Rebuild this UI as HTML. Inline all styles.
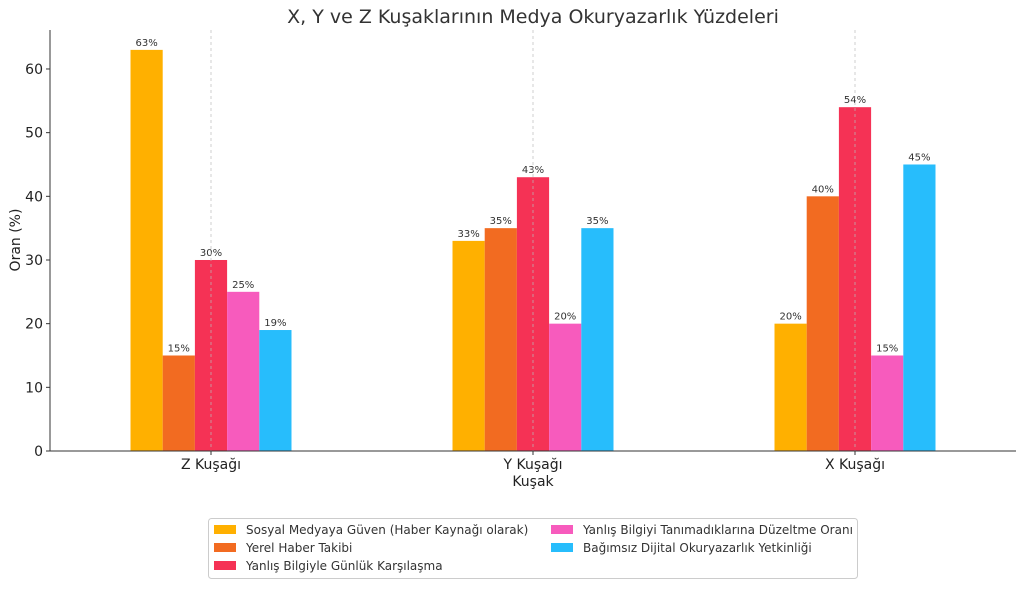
<!DOCTYPE html>
<html><head><meta charset="utf-8"><style>
html,body{margin:0;padding:0;background:#fff;}
svg text{font-family:"DejaVu Sans","Liberation Sans",sans-serif;}
</style></head><body>
<svg id="chart" width="1024" height="587" viewBox="0 0 1024 587" xmlns="http://www.w3.org/2000/svg"></svg>
<script>
const categories = ["Z Kuşağı", "Y Kuşağı", "X Kuşağı"];
const seriesNames = ["Sosyal Medyaya Güven (Haber Kaynağı olarak)", "Yerel Haber Takibi", "Yanlış Bilgiyle Günlük Karşılaşma", "Yanlış Bilgiyi Tanımadıklarına Düzeltme Oranı", "Bağımsız Dijital Okuryazarlık Yetkinliği"];
const sosyalMedya = [63, 33, 20];
const yerelHaber = [15, 35, 40];
const yanlisBilgi = [30, 43, 54];
const duzeltme = [25, 20, 15];
const dijital = [19, 35, 45];
const yTicks = [0, 10, 20, 30, 40, 50, 60];
const seriesValues = [sosyalMedya, yerelHaber, yanlisBilgi, duzeltme, dijital];
const colors = ["#ffb000", "#f26b21", "#f53255", "#f75bbd", "#27bdfc"];

const svg = document.getElementById('chart');
const NS = "http://www.w3.org/2000/svg";
function mk(tag, attrs, text){const e=document.createElementNS(NS,tag);for(const k in attrs)e.setAttribute(k,attrs[k]);if(text!==undefined)e.textContent=text;svg.appendChild(e);return e;}
const L=50,R=1016,T=30,B=451;
const xScale = v => L + (v + 0.5) * (R - L) / 3;
const yScale = v => B - v * 6.367;

let t = mk('text',{x:533,y:23,'text-anchor':'middle','font-size':19,fill:'#333'},"X, Y ve Z Kuşaklarının Medya Okuryazarlık Yüzdeleri");
 

const bw = (R-L)/3*0.1;
seriesValues.forEach((vals,s)=>{
  vals.forEach((v,i)=>{
    const x = xScale(i) + (s-2.5)*bw;
    const r = mk('rect',{x:x,y:yScale(v),width:bw,height:B-yScale(v),fill:colors[s]});
     
    const lb = mk('text',{x:x+bw/2,y:yScale(v)-4,'text-anchor':'middle','font-size':10,fill:'#333'},v+'%');
     
  });
});

categories.forEach((c,i)=>{
  const g = mk('line',{x1:xScale(i),x2:xScale(i),y1:T,y2:B,stroke:'#bbb','stroke-opacity':0.7,'stroke-dasharray':'3,3','stroke-width':1});
   
});

let a = mk('line',{x1:L,x2:L,y1:T,y2:B,stroke:'#333','stroke-width':1});
 
a = mk('line',{x1:L,x2:R,y1:B,y2:B,stroke:'#333','stroke-width':1});
 

yTicks.forEach(v=>{
  mk('line',{x1:L-4,x2:L,y1:yScale(v),y2:yScale(v),stroke:'#333'});
  const tl = mk('text',{x:L-7,y:yScale(v)+5,'text-anchor':'end','font-size':14,fill:'#222'},String(v));
   
});
categories.forEach((c,i)=>{
  mk('line',{x1:xScale(i),x2:xScale(i),y1:B,y2:B+4,stroke:'#333'});
  const tl = mk('text',{x:xScale(i),y:B+18,'text-anchor':'middle','font-size':14,fill:'#222'},c);
   
});
t = mk('text',{x:533,y:486,'text-anchor':'middle','font-size':14,fill:'#222'},"Kuşak");
 
t = mk('text',{x:20,y:240,'text-anchor':'middle','font-size':14,fill:'#222',transform:'rotate(-90 20 240)'},"Oran (%)");
 

const lg = mk('rect',{x:208.5,y:518.5,width:649,height:60,rx:3,fill:'#fff',stroke:'#ccc'});
 
const pos = [[214,523],[214,541],[214,559],[551,523],[551,541]];
seriesNames.forEach((n,s)=>{
  const [px,py]=pos[s];
  const sw = mk('rect',{x:px,y:py+2,width:22,height:9,fill:colors[s]});
   
  const tx = mk('text',{x:px+32,y:py+11,'font-size':12,fill:'#333'},n);
   
});
</script>
</body></html>
